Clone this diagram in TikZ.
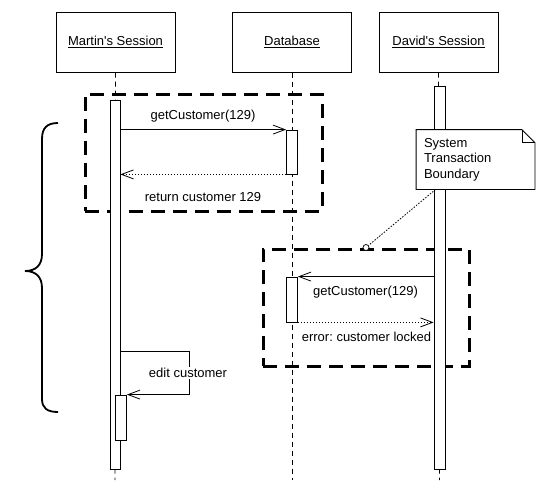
\documentclass[tikz,border=0pt]{standalone}
\usepackage{fontspec}
\setmainfont{Liberation Sans}
\usetikzlibrary{arrows.meta}
\frenchspacing

\begin{document}
\begin{tikzpicture}[x=1pt, y=-1pt, line width=0.8pt,
        font=\fontsize{13}{15.5}\selectfont,
        obj/.style={draw, line width=1pt, fill=white, minimum width=119pt, minimum height=60pt},
        bar/.style={draw, fill=white, minimum width=11pt, inner sep=0pt},
        life/.style={dash pattern=on 5pt off 4pt},
        msg/.style={-{Straight Barb[length=12pt,width=9pt]}},
        reply/.style={msg, dash pattern=on 1.5pt off 1.5pt},
        txbox/.style={draw, line width=3pt, dash pattern=on 14pt off 8pt},
        lbl/.style={inner sep=1pt}]
        \useasboundingbox (0,0) rectangle (541,499);

        \node[obj] (martin) at (115.5,42) {\underline{Martin\textquotesingle s Session}};
        \node[obj] (db) at (292,42) {\underline{Database}};
        \node[obj] (david) at (438.5,42) {\underline{David\textquotesingle s Session}};

        \coordinate (martinend) at (115,480);
        \coordinate (dbend) at (292,480);
        \coordinate (davidend) at (439.5,480);
        \draw[life] (martin.south) -- (martinend);
        \draw[life] (db.south) -- (dbend);
        \draw[life] (david.south) -- (davidend);

        % system transactions
        \node[txbox, minimum width=237pt, minimum height=117pt] (tx1) at (203.5,152.5) {};
        \node[txbox, minimum width=206pt, minimum height=117pt] (tx2) at (366,307.5) {};

        % activations
        \node[bar, minimum width=10pt, minimum height=369pt] (mbar) at (115,284.5) {};
        \node[bar, minimum height=44pt] (dbbar1) at (292,152) {};
        \node[bar, minimum height=45pt] (dbbar2) at (292,299.5) {};
        \node[bar, minimum height=383pt] (dbar) at (439.5,277.5) {};
        \node[bar, minimum height=45pt] (mbar2) at (121,417.5) {};

        \draw[msg] (mbar.east |- dbbar1.north) -- (dbbar1.north west);
        \draw[reply] (dbbar1.south west) -- (mbar.east |- dbbar1.south);
        \node[lbl] (call1) at (203,116) {getCustomer(129)};
        \node[lbl] (ret1) at (203,197) {return customer 129};

        \draw[msg] (dbar.west |- dbbar2.north) -- (dbbar2.north east);
        \draw[reply] (dbbar2.south east) -- (dbar.west |- dbbar2.south);
        \node[lbl] (call2) at (365.5,292) {getCustomer(129)};
        \node[lbl] (ret2) at (366.5,337) {error: customer locked};

        \coordinate (selftop) at (189,351);
        \draw[msg] (mbar.east |- selftop) -- (selftop) -- (selftop |- mbar2.north) -- (mbar2.north east);
        \node[lbl, fill=white] (edit) at (188,373) {edit customer};

        % note
        \node[fill=white, align=left, text width=103pt, inner xsep=7.5pt, minimum width=118pt, minimum height=59pt] (note) at (475.5,159.5) {System\\Transaction\\Boundary};
        \draw (note.north west) -- ([xshift=-13pt]note.north east) -- ([yshift=-13pt]note.north east) -- (note.south east) -- (note.south west) -- cycle;
        \draw ([xshift=-13pt]note.north east) |- ([yshift=-13pt]note.north east);
        \node[circle, draw, fill=white, inner sep=0pt, minimum size=6pt, line width=0.7pt] (anchor) at (tx2.north) {};
        \draw[dash pattern=on 1.5pt off 1.5pt] ([xshift=19.5pt]note.south west) -- (anchor);

        % brace
        \draw[line width=1.8pt] (58,123) .. controls (47,123) and (42,128) .. (42,139) -- (42,254) .. controls (42,265) and (36,271) .. (25,271) .. controls (36,271) and (42,277) .. (42,288) -- (42,399) .. controls (42,408) and (47,412) .. (58,412);
\end{tikzpicture}
\end{document}
